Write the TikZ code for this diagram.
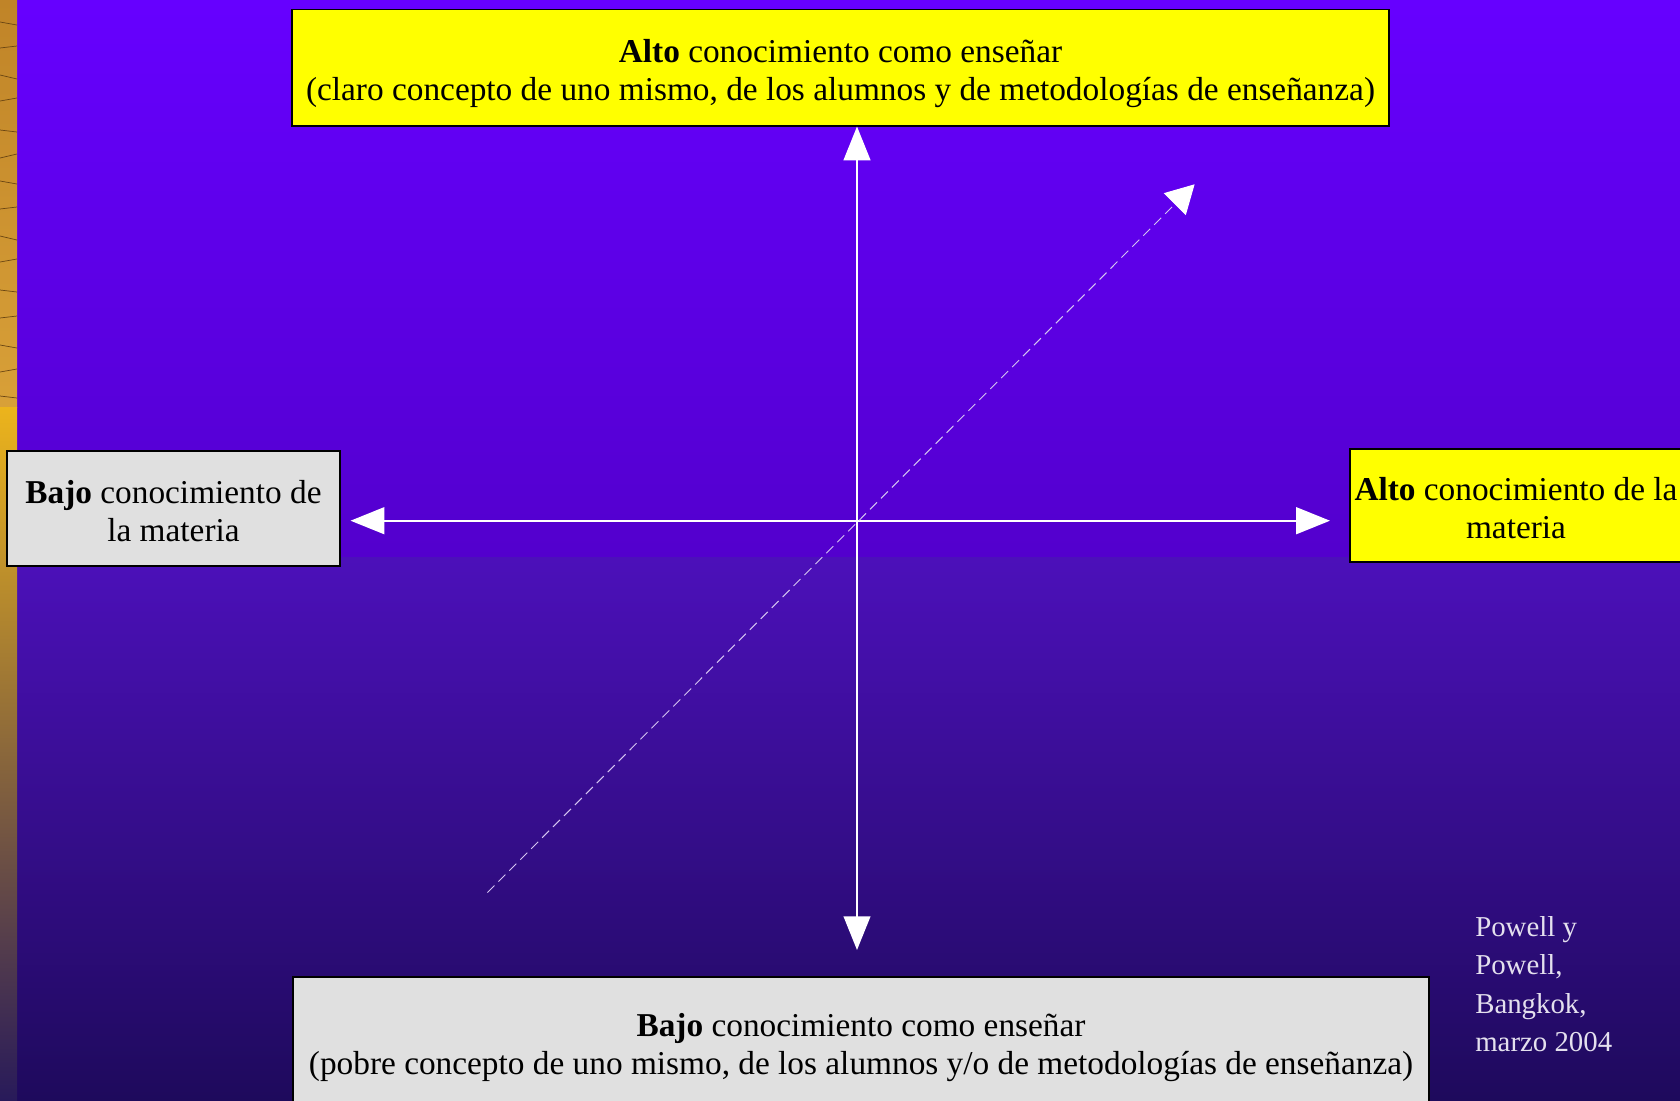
\documentclass[tikz,border=0pt]{standalone}
\usepackage{fontspec}
\setmainfont{Liberation Serif}
\usetikzlibrary{arrows.meta}

\definecolor{bgTop}{HTML}{6600FF}
\definecolor{bgMid}{HTML}{5300CD}
\definecolor{bgLow}{HTML}{4C10BA}
\definecolor{bgEnd}{HTML}{1E0A5C}
\definecolor{boxYel}{HTML}{FFFF00}
\definecolor{boxGry}{HTML}{E0E0E0}
\definecolor{dashCol}{HTML}{D4C4F2}
\definecolor{noteCol}{HTML}{E4E0EE}
\definecolor{stripA}{HTML}{C08428}
\definecolor{stripB}{HTML}{D8A038}
\definecolor{streak}{HTML}{6A4512}

\begin{document}
\begin{tikzpicture}[x=0.025cm,y=-0.025cm]

\tikzset{hi/.style={draw=black,line width=1.4pt,fill=boxYel,align=center,inner sep=0pt,
  font=\fontsize{23.7}{27}\selectfont}}
\tikzset{lo/.style={hi,fill=boxGry}}
\tikzset{axis/.style={{Triangle[length=24pt,width=19pt]}-{Triangle[length=24pt,width=19pt]},white,line width=1.4pt}}
\tikzset{diag/.style={-{Triangle[length=20pt,width=22pt,fill=white,color=white]},dashCol,line width=0.7pt,dash pattern=on 7pt off 4pt}}

\useasboundingbox (0,0) rectangle (1680,1100);

% background
\shade[top color=bgTop,bottom color=bgMid] (0,0) rectangle (1680,557);
\shade[top color=bgLow,bottom color=bgEnd] (0,557) rectangle (1680,1100);

% side strip
\shade[top color=stripA,bottom color=stripB] (0,0) rectangle (17,407);
\foreach \yy/\dd in {22/3,48/-2,75/4,101/-3,130/2,158/-4,181/3,209/-2,236/4,262/-3,290/2,318/-2,345/3,372/-3,396/2}
  \draw[streak,line width=0.5pt] (0,\yy) -- (17,\yy+\dd);
\shade[top color={rgb,255:red,236;green,180;blue,28},middle color={rgb,255:red,176;green,120;blue,72},
  bottom color={rgb,255:red,40;green,26;blue,90}] (0,407) rectangle (17,1100);

% boxes
\node[hi,minimum width=27.4cm,minimum height=2.9cm,text height=52pt,text depth=5.2pt] (altoEns) at (840.5,67.5)
  {\textbf{Alto} conocimiento como enseñar\\(claro concepto de uno mismo, de los alumnos y de metodologías de enseñanza)};
\node[lo,minimum width=28.375cm,minimum height=3.425cm,text height=47pt,text depth=5.2pt] (bajoEns) at (861,1045.5)
  {\textbf{Bajo} conocimiento como enseñar\\(pobre concepto de uno mismo, de los alumnos y/o de metodologías de enseñanza)};
\node[lo,minimum width=8.3cm,minimum height=2.875cm,text height=47pt,text depth=0pt] (bajoMat) at (173.5,508.4)
  {\textbf{Bajo} conocimiento de\\la materia};
\node[hi,minimum width=8.3cm,minimum height=2.825cm,text height=47pt,text depth=0pt] (altoMat) at (1516,505.7)
  {\textbf{Alto} conocimiento de la\\materia};

% axes
\coordinate (ctr) at (857,520.7);
\draw[axis,shorten >=0.65cm] (altoEns.south -| ctr) -- (bajoEns.north -| ctr);
\draw[axis,shorten <=0.25cm,shorten >=0.475cm] (bajoMat.east |- ctr) -- (altoMat.west |- ctr);

\coordinate (dStart) at (487.5,892.5);
\coordinate (dEnd) at (1194.6,184.3);
\draw[diag] (dStart) -- (dEnd);

% source
\node[anchor=north west,align=left,inner sep=0pt,text=noteCol,
  font=\fontsize{20.5}{27.4}\selectfont] (src) at (1475,916)
  {Powell y\\Powell,\\Bangkok,\\marzo 2004};

\end{tikzpicture}
\end{document}
